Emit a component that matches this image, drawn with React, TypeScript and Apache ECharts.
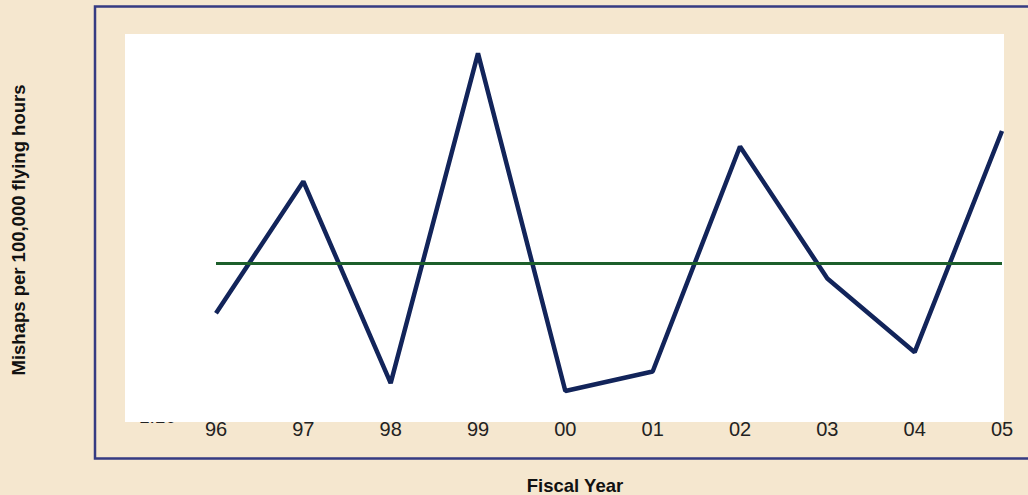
import React, { useEffect, useRef } from "react";
import * as echarts from "echarts";

const fiscalYears = ["96", "97", "98", "99", "00", "01", "02", "03", "04", "05"];
const mishapRates = [1.38, 1.72, 1.2, 2.05, 1.18, 1.23, 1.81, 1.47, 1.28, 1.85];
const averageRate = 1.51;
const yMin = 1.1;
const yMax = 2.1;
const hiddenTickLabel = "1.10";

export default function App() {
  const ref = useRef<HTMLDivElement>(null);

  useEffect(() => {
    if (!ref.current) return;
    const chart = echarts.init(ref.current, undefined, { renderer: "svg" });
    chart.setOption({
      animation: false,
      backgroundColor: "#F5E7CF",
      grid: { left: 216, right: 26, top: 34, bottom: 73 },
      xAxis: {
        type: "category",
        data: fiscalYears,
        boundaryGap: false,
        axisLine: { show: false },
        axisTick: { show: false },
        axisLabel: {
          color: "#222222",
          fontSize: 20,
          fontFamily: "Liberation Sans, Arial, sans-serif",
          margin: -3,
        },
      },
      yAxis: {
        type: "value",
        min: yMin,
        max: yMax,
        show: false,
      },
      graphic: [
        {
          type: "text",
          z: 0,
          style: {
            text: hiddenTickLabel,
            x: 139,
            y: 407,
            font: "19px 'Liberation Sans', Arial, sans-serif",
            fill: "#222222",
          },
        },
        {
          type: "rect",
          z: 1,
          shape: { x: 125, y: 34, width: 879, height: 388 },
          style: { fill: "#FFFFFF" },
        },
        {
          type: "rect",
          z: 1,
          shape: { x: 95, y: 6.5, width: 960, height: 452 },
          style: { fill: "none", stroke: "#353B82", lineWidth: 2.5 },
        },
        {
          type: "text",
          z: 5,
          x: 18,
          y: 230,
          rotation: Math.PI / 2,
          style: {
            text: "Mishaps per 100,000 flying hours",
            x: 0,
            y: 0,
            align: "center",
            verticalAlign: "middle",
            font: "bold 18.5px 'Liberation Sans', Arial, sans-serif",
            fill: "#111111",
          },
        },
        {
          type: "text",
          z: 5,
          style: {
            text: "Fiscal Year",
            x: 575,
            y: 485,
            align: "center",
            verticalAlign: "middle",
            font: "bold 18.5px 'Liberation Sans', Arial, sans-serif",
            fill: "#111111",
          },
        },
      ],
      series: [
        {
          type: "line",
          data: mishapRates,
          symbol: "none",
          z: 3,
          lineStyle: { color: "#12245A", width: 4.5 },
          markLine: {
            silent: true,
            symbol: "none",
            label: { show: false },
            lineStyle: { color: "#1D5F2B", width: 3, type: "solid" },
            data: [{ yAxis: averageRate }],
          },
        },
      ],
    });
    return () => chart.dispose();
  }, []);

  return (
    <div
      ref={ref}
      style={{ position: "absolute", left: 0, top: 0, width: 1028, height: 495 }}
    />
  );
}
